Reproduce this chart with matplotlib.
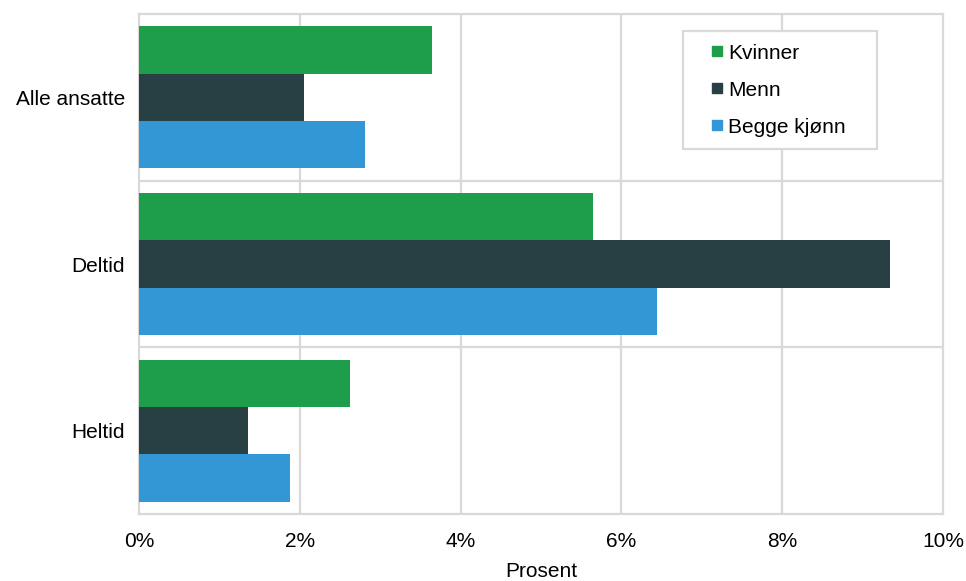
import numpy as np
from matplotlib import pyplot as plt
from matplotlib.lines import Line2D
from matplotlib.ticker import FuncFormatter

plt.rcParams['font.family'] = ['Liberation Sans', 'DejaVu Sans']

categories = ['Alle ansatte', 'Deltid', 'Heltid']
series = ['Kvinner', 'Menn', 'Begge kjønn']
kvinner = [3.64, 5.65, 2.62]
menn = [2.05, 9.34, 1.36]
begge = [2.81, 6.44, 1.88]
colors = ['#1e9e4a', '#283f44', '#3497d5']

grid_col = '#d9d9d9'
fs = 15

fig = plt.figure(figsize=(9.66, 5.81), dpi=100)
ax = fig.add_axes([0.1439, 0.1153, 0.8323, 0.8606])

y = np.arange(len(categories))
h = 0.284
for i, vals in enumerate([kvinner, menn, begge]):
    ax.barh(y + (i - 1) * h, vals, height=h, color=colors[i], zorder=3)

ax.set_xlim(0, 10)
ax.set_ylim(2.5, -0.5)
ax.set_xticks(np.arange(0, 11, 2))
ax.xaxis.set_major_formatter(FuncFormatter(lambda v, p: '{:d}%'.format(int(v))))
ax.set_yticks(y)
ax.set_yticklabels(categories)
ax.tick_params(length=0, labelsize=fs, colors='black')
ax.tick_params(axis='x', pad=13)
ax.tick_params(axis='y', pad=10)

# grid: vertical at ticks, horizontal between categories
for xv in np.arange(2, 10, 2):
    ax.axvline(xv, color=grid_col, lw=1.6, zorder=1)
for yv in [0.5, 1.5]:
    ax.axhline(yv, color=grid_col, lw=1.6, zorder=1)
for s in ax.spines.values():
    s.set_color(grid_col)
    s.set_linewidth(1.6)

ax.set_xlabel('Prosent', fontsize=fs, labelpad=8)

handles = [Line2D([], [], ls='none', marker='s', markersize=7.5, color=c) for c in colors]
leg = ax.legend(handles, series, loc='upper left', bbox_to_anchor=(0.6766, 0.966, 0.2413, 0.0),
                mode='expand', fontsize=fs, frameon=True, fancybox=False,
                handlelength=2.1, handletextpad=-0.54, labelspacing=0.87,
                borderpad=0.6, borderaxespad=0)
leg.get_frame().set_edgecolor(grid_col)
leg.get_frame().set_linewidth(1.6)
leg.get_frame().set_alpha(1)

fig.savefig('out.png', dpi=100)
